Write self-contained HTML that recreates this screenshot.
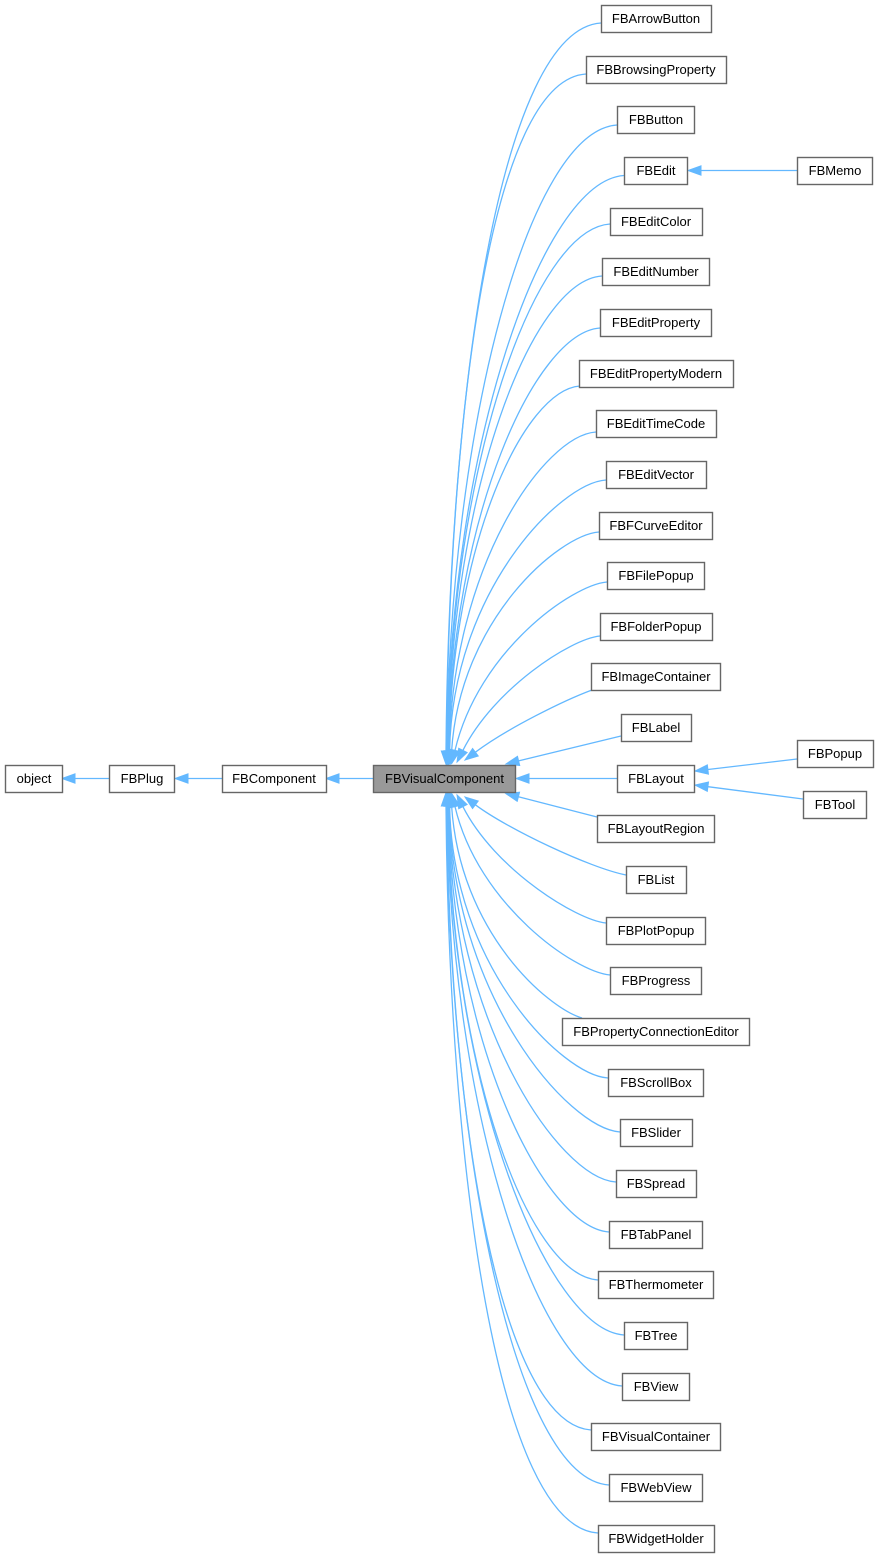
<!DOCTYPE html>
<html><head><meta charset="utf-8">
<style>
html,body{margin:0;padding:0;background:#fff;}
svg{display:block;}
text{font-family:"Liberation Sans",Arial,sans-serif;font-size:13px;fill:#000;text-anchor:middle;}
.b{fill:#fff;stroke:#666666;stroke-width:1.4;}
.e{fill:none;stroke:#63b8ff;stroke-width:1.3;}
</style></head>
<body>
<svg width="878" height="1557" viewBox="0 0 878 1557" xmlns="http://www.w3.org/2000/svg">
<defs>
<marker id="a" markerWidth="14" markerHeight="10" refX="0" refY="5" orient="auto" markerUnits="userSpaceOnUse" overflow="visible">
<path d="M0,0.3 L13,5 L0,9.7 Z" fill="#63b8ff" stroke="#63b8ff" stroke-width="1"/>
</marker>
</defs>

<!-- straight edges -->
<path class="e" marker-end="url(#a)" d="M109,778.5 L75,778.5"/>
<path class="e" marker-end="url(#a)" d="M222,778.5 L188,778.5"/>
<path class="e" marker-end="url(#a)" d="M373,778.5 L339,778.5"/>
<path class="e" marker-end="url(#a)" d="M617,778.5 L529,778.5"/>
<path class="e" marker-end="url(#a)" d="M621,736 L518.6,760.9"/>
<path class="e" marker-end="url(#a)" d="M597,817 L518.4,796.8"/>
<path class="e" marker-end="url(#a)" d="M797,759 L707.9,769.5"/>
<path class="e" marker-end="url(#a)" d="M803,799 L707.9,786.7"/>
<path class="e" marker-end="url(#a)" d="M797,170.5 L701,170.5"/>

<!-- curved edges above -->
<path class="e" marker-end="url(#a)" d="M601,23 C501,29.5 449,387 446,751"/>
<path class="e" marker-end="url(#a)" d="M586,74 C492,80 449.4,405.7 446.4,751"/>
<path class="e" marker-end="url(#a)" d="M617,125 C529,131 449.8,425.5 446.8,751"/>
<path class="e" marker-end="url(#a)" d="M624,175.5 C542,181 450.2,446 447.2,751"/>
<path class="e" marker-end="url(#a)" d="M610,224 C534,229 450.6,466.4 447.6,751"/>
<path class="e" marker-end="url(#a)" d="M602,276 C532,280.5 451,490 448,751"/>
<path class="e" marker-end="url(#a)" d="M600,328 C536,332.5 451.4,514 448.4,751"/>
<path class="e" marker-end="url(#a)" d="M580,386 C524,390 451.8,543 448.8,751"/>
<path class="e" marker-end="url(#a)" d="M596,432 C544,435.5 452.2,566 449.2,751"/>
<path class="e" marker-end="url(#a)" d="M606,480 C560,483 452.6,591 449.6,751"/>
<path class="e" marker-end="url(#a)" d="M599,532 C559,535 460,619 451.6,751.1"/>
<path class="e" marker-end="url(#a)" d="M607,582 C572,585 478.5,651 455,750.4"/>
<path class="e" marker-end="url(#a)" d="M600,636 C570,639 493.8,689.1 462.9,750.4"/>
<path class="e" marker-end="url(#a)" d="M592,690 C565,700 507.4,728.2 475.4,752.2"/>

<!-- curved edges below -->
<path class="e" marker-end="url(#a)" d="M626,875 C590,868 507.4,828.8 475.4,804.8"/>
<path class="e" marker-end="url(#a)" d="M606,923 C576,920 494.3,868.9 462.9,806.6"/>
<path class="e" marker-end="url(#a)" d="M610,975 C575,972 478.2,904.9 455,806.6"/>
<path class="e" marker-end="url(#a)" d="M582,1018 C548,1008 460,933 451.6,805.9"/>
<path class="e" marker-end="url(#a)" d="M608,1078 C562,1075 452.6,966.5 449.6,806"/>
<path class="e" marker-end="url(#a)" d="M620,1132 C568,1128.5 452.2,995 449.2,806"/>
<path class="e" marker-end="url(#a)" d="M616,1182 C558,1178 451.8,1020 448.8,806"/>
<path class="e" marker-end="url(#a)" d="M609,1232 C545,1227.5 451.4,1044.6 448.4,806"/>
<path class="e" marker-end="url(#a)" d="M598,1280 C528,1275 451,1066.7 448,806"/>
<path class="e" marker-end="url(#a)" d="M624,1335 C548,1330 450.6,1091.7 447.6,806"/>
<path class="e" marker-end="url(#a)" d="M622,1386 C540,1380.5 450.2,1113.4 447.2,806"/>
<path class="e" marker-end="url(#a)" d="M591,1430 C503,1424 449.8,1130.5 446.8,806"/>
<path class="e" marker-end="url(#a)" d="M609,1485 C515,1479 449.4,1152.3 446.4,806"/>
<path class="e" marker-end="url(#a)" d="M598,1533 C498,1526.5 449,1169.5 446,806"/>

<!-- main row -->
<rect class="b" x="5.5" y="765.5" width="57" height="27"/><text x="34" y="783">object</text>
<rect class="b" x="109.5" y="765.5" width="65" height="27"/><text x="142" y="783">FBPlug</text>
<rect class="b" x="222.5" y="765.5" width="104" height="27"/><text x="274" y="783">FBComponent</text>
<rect x="373.5" y="765.5" width="142" height="27" fill="#999999" stroke="#666666" stroke-width="1.4"/><text x="444.5" y="783">FBVisualComponent</text>

<!-- column -->
<rect class="b" x="601.5" y="5.5" width="110" height="27"/><text x="656" y="23">FBArrowButton</text>
<rect class="b" x="586.5" y="56.5" width="140" height="27"/><text x="656" y="74">FBBrowsingProperty</text>
<rect class="b" x="617.5" y="106.5" width="77" height="27"/><text x="656" y="124">FBButton</text>
<rect class="b" x="624.5" y="157.5" width="63" height="27"/><text x="656" y="175">FBEdit</text>
<rect class="b" x="610.5" y="208.5" width="92" height="27"/><text x="656" y="226">FBEditColor</text>
<rect class="b" x="602.5" y="258.5" width="107" height="27"/><text x="656" y="276">FBEditNumber</text>
<rect class="b" x="600.5" y="309.5" width="111" height="27"/><text x="656" y="327">FBEditProperty</text>
<rect class="b" x="579.5" y="360.5" width="154" height="27"/><text x="656" y="378">FBEditPropertyModern</text>
<rect class="b" x="596.5" y="410.5" width="120" height="27"/><text x="656" y="428">FBEditTimeCode</text>
<rect class="b" x="606.5" y="461.5" width="100" height="27"/><text x="656" y="479">FBEditVector</text>
<rect class="b" x="599.5" y="512.5" width="113" height="27"/><text x="656" y="530">FBFCurveEditor</text>
<rect class="b" x="607.5" y="562.5" width="97" height="27"/><text x="656" y="580">FBFilePopup</text>
<rect class="b" x="600.5" y="613.5" width="112" height="27"/><text x="656" y="631">FBFolderPopup</text>
<rect class="b" x="591.5" y="663.5" width="129" height="27"/><text x="656" y="681">FBImageContainer</text>
<rect class="b" x="621.5" y="714.5" width="70" height="27"/><text x="656" y="732">FBLabel</text>
<rect class="b" x="617.5" y="765.5" width="77" height="27"/><text x="656" y="783">FBLayout</text>
<rect class="b" x="597.5" y="815.5" width="117" height="27"/><text x="656" y="833">FBLayoutRegion</text>
<rect class="b" x="626.5" y="866.5" width="60" height="27"/><text x="656" y="884">FBList</text>
<rect class="b" x="606.5" y="917.5" width="99" height="27"/><text x="656" y="935">FBPlotPopup</text>
<rect class="b" x="610.5" y="967.5" width="91" height="27"/><text x="656" y="985">FBProgress</text>
<rect class="b" x="562.5" y="1018.5" width="187" height="27"/><text x="656" y="1036">FBPropertyConnectionEditor</text>
<rect class="b" x="608.5" y="1069.5" width="95" height="27"/><text x="656" y="1087">FBScrollBox</text>
<rect class="b" x="620.5" y="1119.5" width="72" height="27"/><text x="656" y="1137">FBSlider</text>
<rect class="b" x="616.5" y="1170.5" width="80" height="27"/><text x="656" y="1188">FBSpread</text>
<rect class="b" x="609.5" y="1221.5" width="93" height="27"/><text x="656" y="1239">FBTabPanel</text>
<rect class="b" x="598.5" y="1271.5" width="115" height="27"/><text x="656" y="1289">FBThermometer</text>
<rect class="b" x="624.5" y="1322.5" width="63" height="27"/><text x="656" y="1340">FBTree</text>
<rect class="b" x="622.5" y="1373.5" width="67" height="27"/><text x="656" y="1391">FBView</text>
<rect class="b" x="591.5" y="1423.5" width="129" height="27"/><text x="656" y="1441">FBVisualContainer</text>
<rect class="b" x="609.5" y="1474.5" width="93" height="27"/><text x="656" y="1492">FBWebView</text>
<rect class="b" x="598.5" y="1525.5" width="116" height="27"/><text x="656" y="1543">FBWidgetHolder</text>

<!-- right column -->
<rect class="b" x="797.5" y="157.5" width="75" height="27"/><text x="835" y="175">FBMemo</text>
<rect class="b" x="797.5" y="740.5" width="76" height="27"/><text x="835" y="758">FBPopup</text>
<rect class="b" x="803.5" y="791.5" width="63" height="27"/><text x="835" y="809">FBTool</text>
</svg>
</body></html>
